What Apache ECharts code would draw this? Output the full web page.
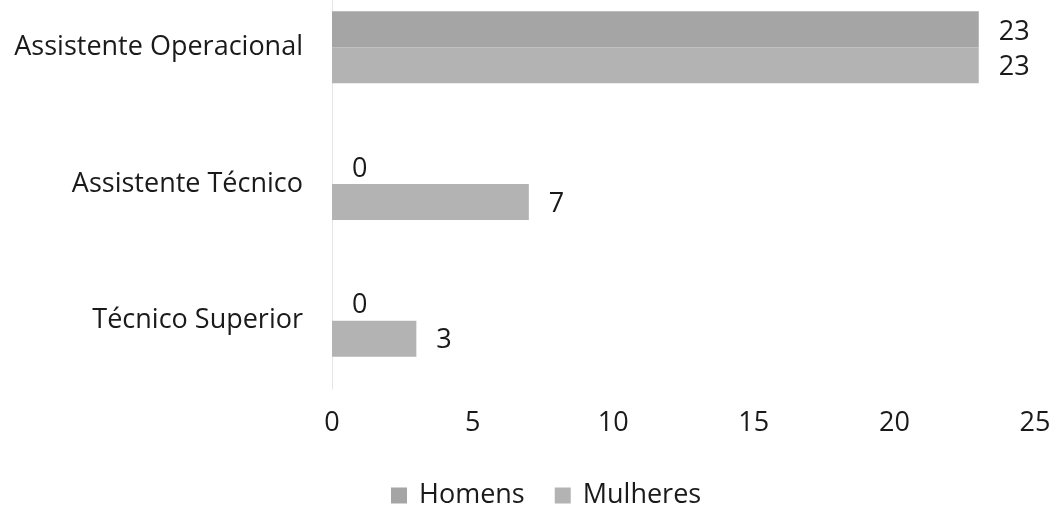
<!DOCTYPE html>
<html><head><meta charset="utf-8">
<script src="https://cdn.jsdelivr.net/npm/echarts@6/dist/echarts.min.js"></script>
<style>html,body{margin:0;padding:0;background:#fff}#c{width:1054px;height:507px}</style>
</head><body><div id="c"></div>
<script>
const categories = ['Assistente Operacional', 'Assistente Técnico', 'Técnico Superior'];
const homens = [23, 0, 0];
const mulheres = [23, 7, 3];
const xTicks = [0, 5, 10, 15, 20, 25];

const font = '"Open Sans", Lato, sans-serif';
const chart = echarts.init(document.getElementById('c'));
chart.setOption({
  animation: false,
  grid: { left: 332, right: 19, top: -21, bottom: 118, outerBoundsMode: 'none', containLabel: false },
  xAxis: {
    type: 'value', min: xTicks[0], max: xTicks[xTicks.length - 1], interval: 5,
    axisLine: { show: false }, axisTick: { show: false },
    splitLine: { show: false },
    axisLabel: { fontSize: 27, color: '#1a1a1a', fontFamily: font, margin: 21 }
  },
  yAxis: {
    type: 'category', data: categories, inverse: true,
    axisLine: { show: true, lineStyle: { color: '#e4e4e4', width: 1 } },
    axisTick: { show: false },
    axisLabel: { fontSize: 27, color: '#1a1a1a', fontFamily: font, margin: 29 }
  },
  legend: {
    top: 477, left: 386, itemWidth: 16, itemHeight: 16, itemGap: 30,
    icon: 'rect',
    textStyle: { fontSize: 27, color: '#1a1a1a', fontFamily: font, padding: [0, 0, 0, 7] },
    data: ['Homens', 'Mulheres']
  },
  series: [
    { name: 'Homens', type: 'bar', data: homens, barWidth: 36, barGap: '0%',
      itemStyle: { color: '#a5a5a5' },
      label: { show: true, position: 'right', distance: 20, fontSize: 27, color: '#1a1a1a', fontFamily: font, offset: [0, 3] } },
    { name: 'Mulheres', type: 'bar', data: mulheres, barWidth: 36,
      itemStyle: { color: '#b3b3b3' },
      label: { show: true, position: 'right', distance: 20, fontSize: 27, color: '#1a1a1a', fontFamily: font, offset: [0, 2] } }
  ]
});
</script></body></html>
